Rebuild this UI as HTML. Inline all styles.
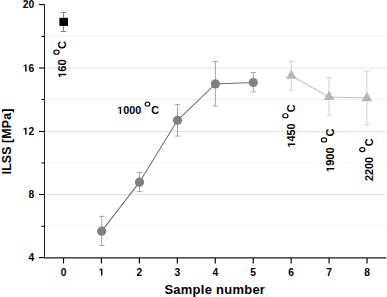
<!DOCTYPE html>
<html><head><meta charset="utf-8">
<style>
html,body{margin:0;padding:0;background:#fff;width:387px;height:297px;overflow:hidden}
svg{display:block}
text{font-family:"Liberation Sans",sans-serif;font-weight:bold;fill:#000}
.r{font-weight:bold}
</style></head><body>
<svg width="387" height="297" viewBox="0 0 387 297">
<g stroke-width="1">
<line x1="45" y1="36.30" x2="386" y2="36.30" stroke="#f1f1f1"/>
<line x1="45" y1="99.50" x2="386" y2="99.50" stroke="#f1f1f1"/>
<line x1="45" y1="162.80" x2="386" y2="162.80" stroke="#f1f1f1"/>
<line x1="45" y1="226.10" x2="386" y2="226.10" stroke="#f1f1f1"/>
<line x1="45" y1="68.00" x2="386" y2="68.00" stroke="#e2e2e2"/>
<line x1="45" y1="131.45" x2="386" y2="131.45" stroke="#e2e2e2"/>
<line x1="45" y1="194.50" x2="386" y2="194.50" stroke="#e2e2e2"/>
</g>
<g stroke="#1a1a1a" stroke-width="1">
<line x1="44.5" y1="4.30" x2="44.5" y2="258.3"/>
<line x1="44" y1="257.8" x2="386.2" y2="257.8" stroke-width="1.3"/>
<line x1="39" y1="4.60" x2="44.5" y2="4.60" stroke="#000" stroke-width="1.1"/>
<line x1="39" y1="68.00" x2="44.5" y2="68.00" stroke="#000" stroke-width="1.1"/>
<line x1="39" y1="131.45" x2="44.5" y2="131.45" stroke="#000" stroke-width="1.1"/>
<line x1="39" y1="194.50" x2="44.5" y2="194.50" stroke="#000" stroke-width="1.1"/>
<line x1="39" y1="257.60" x2="44.5" y2="257.60" stroke="#000" stroke-width="1.1"/>
<line x1="41.5" y1="36.40" x2="44.5" y2="36.40" stroke="#000" stroke-width="1.1"/>
<line x1="41.5" y1="99.50" x2="44.5" y2="99.50" stroke="#000" stroke-width="1.1"/>
<line x1="41.5" y1="162.90" x2="44.5" y2="162.90" stroke="#000" stroke-width="1.1"/>
<line x1="41.5" y1="226.30" x2="44.5" y2="226.30" stroke="#000" stroke-width="1.1"/>
<line x1="63.50" y1="258" x2="63.50" y2="263.4" stroke="#000" stroke-width="1.15"/>
<line x1="101.44" y1="258" x2="101.44" y2="263.4" stroke="#000" stroke-width="1.15"/>
<line x1="139.38" y1="258" x2="139.38" y2="263.4" stroke="#000" stroke-width="1.15"/>
<line x1="177.32" y1="258" x2="177.32" y2="263.4" stroke="#000" stroke-width="1.15"/>
<line x1="215.26" y1="258" x2="215.26" y2="263.4" stroke="#000" stroke-width="1.15"/>
<line x1="253.20" y1="258" x2="253.20" y2="263.4" stroke="#000" stroke-width="1.15"/>
<line x1="291.14" y1="258" x2="291.14" y2="263.4" stroke="#000" stroke-width="1.15"/>
<line x1="329.08" y1="258" x2="329.08" y2="263.4" stroke="#000" stroke-width="1.15"/>
<line x1="367.02" y1="258" x2="367.02" y2="263.4" stroke="#000" stroke-width="1.15"/>
</g>
<text x="22.74" y="8.40" font-size="10.3">20</text>
<text x="22.74" y="71.60" font-size="10.3">&#x2007;6</text><path d="M478 0L478-1170L140-959L140-1180L493-1409L759-1409L759 0Z" transform="translate(22.74,71.60) scale(0.005029)"/>
<text x="22.74" y="134.80" font-size="10.3">&#x2007;2</text><path d="M478 0L478-1170L140-959L140-1180L493-1409L759-1409L759 0Z" transform="translate(22.74,134.80) scale(0.005029)"/>
<text x="28.47" y="198.00" font-size="10.3">8</text>
<text x="28.47" y="261.20" font-size="10.3">4</text>
<text x="60.64" y="275.60" font-size="10.3">0</text>
<text x="98.58" y="275.60" font-size="10.3">&#x2007;</text><path d="M478 0L478-1170L140-959L140-1180L493-1409L759-1409L759 0Z" transform="translate(98.58,275.60) scale(0.005029)"/>
<text x="136.52" y="275.60" font-size="10.3">2</text>
<text x="174.46" y="275.60" font-size="10.3">3</text>
<text x="212.40" y="275.60" font-size="10.3">4</text>
<text x="250.34" y="275.60" font-size="10.3">5</text>
<text x="288.28" y="275.60" font-size="10.3">6</text>
<text x="326.22" y="275.60" font-size="10.3">7</text>
<text x="364.16" y="275.60" font-size="10.3">8</text>
<text x="214.8" y="293.6" font-size="13" letter-spacing="0.25" text-anchor="middle">Sample number</text>
<text transform="translate(11.0,141.5) rotate(-90)" font-size="12.4" letter-spacing="0.1" text-anchor="middle">ILSS [MPa]</text>
<g stroke="#a6a6a6" stroke-width="1" fill="none"><path d="M101.70 216.30V245.40M98.95 216.30h5.5M98.95 245.40h5.5M139.50 172.50V191.60M136.75 172.50h5.5M136.75 191.60h5.5M177.50 104.40V136.10M174.75 104.40h5.5M174.75 136.10h5.5M215.40 61.50V106.00M212.65 61.50h5.5M212.65 106.00h5.5M253.30 72.50V91.90M250.55 72.50h5.5M250.55 91.90h5.5"/></g>
<g stroke="#d0d0d0" stroke-width="1" fill="none"><path d="M291.30 61.40V90.20M288.55 61.40h5.5M288.55 90.20h5.5M329.00 77.60V115.00M326.25 77.60h5.5M326.25 115.00h5.5M366.90 71.10V124.50M364.15 71.10h5.5M364.15 124.50h5.5"/></g>
<g stroke="#858585" stroke-width="1" fill="none"><path d="M63.50 12.50V31.50M60.75 12.50h5.5M60.75 31.50h5.5"/></g>
<polyline points="101.70,231.15 139.50,182.15 177.50,120.35 215.40,83.90 253.30,82.50" fill="none" stroke="#6e6e6e" stroke-width="1.05"/>
<polyline points="291.30,75.80 329.00,96.90 366.90,98.10" fill="none" stroke="#c0c0c0" stroke-width="1.05"/>
<rect x="59.4" y="17.8" width="8.6" height="8.1" fill="#000"/>
<g fill="#808080"><circle cx="101.70" cy="231.15" r="4.6"/><circle cx="139.50" cy="182.15" r="4.6"/><circle cx="177.50" cy="120.35" r="4.6"/><circle cx="215.40" cy="83.90" r="4.6"/><circle cx="253.30" cy="82.50" r="4.6"/></g>
<g fill="#b6b6b6"><path d="M291.30 69.67L296.80 78.87H285.80Z"/><path d="M329.00 90.77L334.50 99.97H323.50Z"/><path d="M366.90 91.97L372.40 101.17H361.40Z"/></g>
<g transform="translate(66.20,78.00) rotate(-90)"><text x="0.00" y="0.00" font-size="11.3">&#x2007;60</text><path d="M478 0L478-1170L140-959L140-1180L493-1409L759-1409L759 0Z" transform="translate(0.00,0.00) scale(0.005518)"/></g><ellipse cx="56.45" cy="52.20" rx="2.60" ry="2.05" fill="none" stroke="#000" stroke-width="1.15"/><text class="r" transform="translate(66.20,49.00) rotate(-90)" font-size="11.3">C</text>
<text x="117.20" y="114.10" font-size="10.8">&#x2007;000</text><path d="M478 0L478-1170L140-959L140-1180L493-1409L759-1409L759 0Z" transform="translate(117.20,114.10) scale(0.005273)"/><ellipse cx="147.50" cy="104.10" rx="2.30" ry="2.10" fill="none" stroke="#000" stroke-width="1.15"/><text class="r" x="151.30" y="114.10" font-size="10.8">C</text>
<g transform="translate(295.20,147.60) rotate(-90)"><text x="0.00" y="0.00" font-size="10.8">&#x2007;450</text><path d="M478 0L478-1170L140-959L140-1180L493-1409L759-1409L759 0Z" transform="translate(0.00,0.00) scale(0.005273)"/></g><ellipse cx="285.40" cy="115.75" rx="2.60" ry="2.05" fill="none" stroke="#000" stroke-width="1.15"/><text class="r" transform="translate(295.20,112.30) rotate(-90)" font-size="10.8">C</text>
<g transform="translate(334.20,172.00) rotate(-90)"><text x="0.00" y="0.00" font-size="11.1">&#x2007;900</text><path d="M478 0L478-1170L140-959L140-1180L493-1409L759-1409L759 0Z" transform="translate(0.00,0.00) scale(0.005420)"/></g><ellipse cx="324.00" cy="139.90" rx="2.60" ry="2.05" fill="none" stroke="#000" stroke-width="1.15"/><text class="r" transform="translate(334.20,136.40) rotate(-90)" font-size="11.1">C</text>
<g transform="translate(372.90,181.10) rotate(-90)"><text x="0.00" y="0.00" font-size="10.8">2200</text></g><ellipse cx="362.30" cy="149.60" rx="2.60" ry="2.05" fill="none" stroke="#000" stroke-width="1.15"/><text class="r" transform="translate(372.90,146.20) rotate(-90)" font-size="10.8">C</text>
</svg>
</body></html>
